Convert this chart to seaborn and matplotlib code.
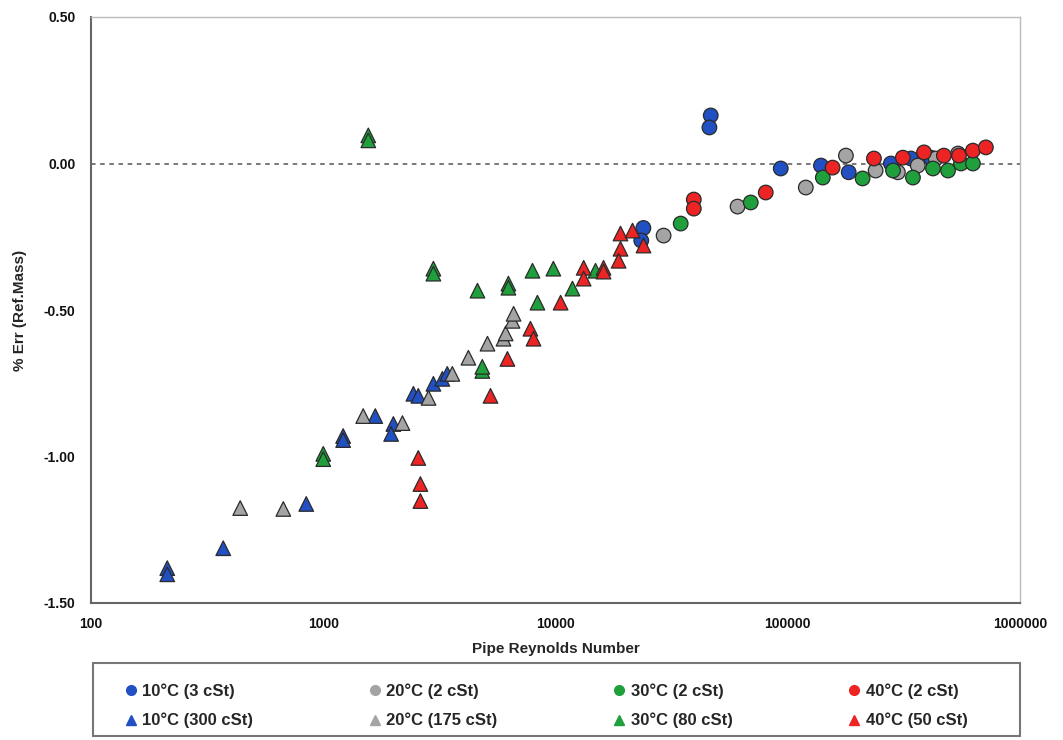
import numpy as np
import pandas as pd
import matplotlib
matplotlib.use("Agg")
import matplotlib.pyplot as plt
from matplotlib.ticker import FixedLocator, FuncFormatter, NullLocator
from matplotlib.lines import Line2D
from matplotlib.patches import Rectangle
import seaborn as sns

# ---------------- data ----------------
c10_re  = [46600, 46000, 93300, 23900, 23400, 139000, 183000, 278000, 339000, 413000]
c10_err = [0.164, 0.123, -0.017, -0.220, -0.263, -0.007, -0.030, 0.000, 0.017, 0.020]

c20_re  = [29200, 60800, 119600, 178000, 239000, 298000, 363000, 434000, 541000]
c20_err = [-0.246, -0.147, -0.082, 0.027, -0.024, -0.030, -0.007, 0.017, 0.034]

c30_re  = [34600, 69300, 141600, 210000, 284000, 346000, 422000, 490000, 557000, 627000]
c30_err = [-0.205, -0.133, -0.048, -0.051, -0.024, -0.048, -0.017, -0.024, 0.000, 0.000]

c40_re  = [39400, 39400, 80400, 156000, 235000, 313000, 386000, 470000, 546000, 627000, 713000]
c40_err = [-0.123, -0.154, -0.099, -0.014, 0.017, 0.020, 0.038, 0.027, 0.027, 0.044, 0.055]

t10_re  = [213, 213, 371, 845, 1218, 1218, 1675, 2004, 1960, 2444, 2566, 2980, 3257, 3420]
t10_err = [-1.381, -1.402, -1.313, -1.162, -0.930, -0.944, -0.862, -0.889, -0.923,
           -0.786, -0.793, -0.752, -0.735, -0.718]

t20_re  = [439, 673, 1486, 2193, 2840, 3597, 4217, 5094, 5970, 6100, 6530, 6600]
t20_err = [-1.176, -1.179, -0.862, -0.886, -0.800, -0.718, -0.663, -0.615, -0.598,
           -0.580, -0.537, -0.513]

t30_re  = [1563, 1563, 1000, 1000, 2980, 2980, 4613, 6270, 6270, 7960, 9790, 8360,
           11830, 14870, 4840, 4840]
t30_err = [0.096, 0.079, -0.991, -1.009, -0.359, -0.376, -0.434, -0.410, -0.424,
           -0.366, -0.359, -0.475, -0.427, -0.366, -0.708, -0.694]

t40_re  = [2566, 2620, 2620, 5250, 6210, 7800, 8040, 10520, 13220, 13220, 16100, 16100,
           19050, 21460, 19050, 18700, 23930]
t40_err = [-1.005, -1.094, -1.152, -0.793, -0.667, -0.564, -0.598, -0.475, -0.356,
           -0.393, -0.356, -0.369, -0.239, -0.229, -0.291, -0.332, -0.280]

labels = ["10°C (3 cSt)", "20°C (2 cSt)", "30°C (2 cSt)", "40°C (2 cSt)",
          "10°C (300 cSt)", "20°C (175 cSt)", "30°C (80 cSt)", "40°C (50 cSt)"]
x_ticks = [100, 1000, 10000, 100000, 1000000]
y_ticks = [0.50, 0.00, -0.50, -1.00, -1.50]

series = [(c10_re, c10_err), (c20_re, c20_err), (c30_re, c30_err), (c40_re, c40_err),
          (t10_re, t10_err), (t20_re, t20_err), (t30_re, t30_err), (t40_re, t40_err)]

rows = []
for lab, (xs, ys) in zip(labels, series):
    for xv, yv in zip(xs, ys):
        rows.append({"Re": xv, "Err": yv, "Series": lab})
df = pd.DataFrame(rows)

# ---------------- styling ----------------
sns.set_theme(style="white")
plt.rcParams["font.family"] = ["Liberation Sans", "DejaVu Sans"]
plt.rcParams["font.weight"] = "bold"

blue, gray, green, red = "#2150C2", "#A4A4A4", "#1FA03C", "#EC2424"
palette = dict(zip(labels, [blue, gray, green, red, blue, gray, green, red]))
markers = dict(zip(labels, ["o"] * 4 + ["^"] * 4))

W, H = 1063, 740
fig = plt.figure(figsize=(W / 100, H / 100), dpi=100)
ax = fig.add_axes([91 / W, 1 - 603 / H, (1020 - 91) / W, (603 - 17) / H])

ax.axhline(0, color="#555555", lw=1.1, ls=(0, (3, 3)), zorder=1)

sns.scatterplot(data=df, x="Re", y="Err", hue="Series", style="Series",
                palette=palette, markers=markers, s=110, edgecolor="#2a2a2a",
                linewidth=0.9, ax=ax, legend=False, zorder=3)

ax.set_xscale("log")
ax.set_xlim(100, 1000000)
ax.set_ylim(-1.5, 0.5)
ax.xaxis.set_major_locator(FixedLocator(x_ticks))
ax.xaxis.set_minor_locator(NullLocator())
ax.xaxis.set_major_formatter(FuncFormatter(lambda v, p: f"{int(round(v))}"))
ax.yaxis.set_major_locator(FixedLocator(y_ticks))
ax.yaxis.set_major_formatter(FuncFormatter(lambda v, p: f"{v:.2f}".replace("−", "-")))

ax.tick_params(axis="x", direction="inout", length=8, width=1.2, colors="#555555",
               labelcolor="#111111", labelsize=10, pad=6)
ax.tick_params(axis="y", direction="out", length=5, width=1.2, colors="#555555",
               labelcolor="#111111", labelsize=10, pad=6)
for lab in ax.get_xticklabels() + ax.get_yticklabels():
    lab.set_fontweight("bold")

for side in ["left", "bottom"]:
    ax.spines[side].set_color("#666666")
    ax.spines[side].set_linewidth(1.5)
for side in ["top", "right"]:
    ax.spines[side].set_color("#BBBBBB")
    ax.spines[side].set_linewidth(1.0)

ax.set_xlabel("Pipe Reynolds Number", fontsize=11, fontweight="bold", labelpad=8)
ax.set_ylabel("% Err (Ref.Mass)", fontsize=11, fontweight="bold", labelpad=12)

# legend below (two rows: circles, triangles) inside a framed box
box = Rectangle((93 / W, 1 - 736 / H), (1020 - 93) / W, (736 - 663) / H,
                transform=fig.transFigure, fill=False, edgecolor="#777777", lw=1.5)
fig.add_artist(box)

order = [0, 4, 1, 5, 2, 6, 3, 7]
handles = [Line2D([], [], ls="none", marker=markers[labels[i]], color=palette[labels[i]],
                  markeredgecolor=palette[labels[i]], markersize=7) for i in order]
leg = fig.legend(handles, [labels[i] for i in order], ncol=4,
                 loc="lower left",
                 bbox_to_anchor=(115 / W, 1 - 736 / H, (975 - 115) / W, (736 - 663) / H),
                 mode="expand", frameon=False, handletextpad=0.2,
                 handlelength=1.0, borderpad=0.45, labelspacing=0.85,
                 prop={"size": 12, "weight": "bold"}, borderaxespad=0)

fig.savefig("out.png", dpi=100)
